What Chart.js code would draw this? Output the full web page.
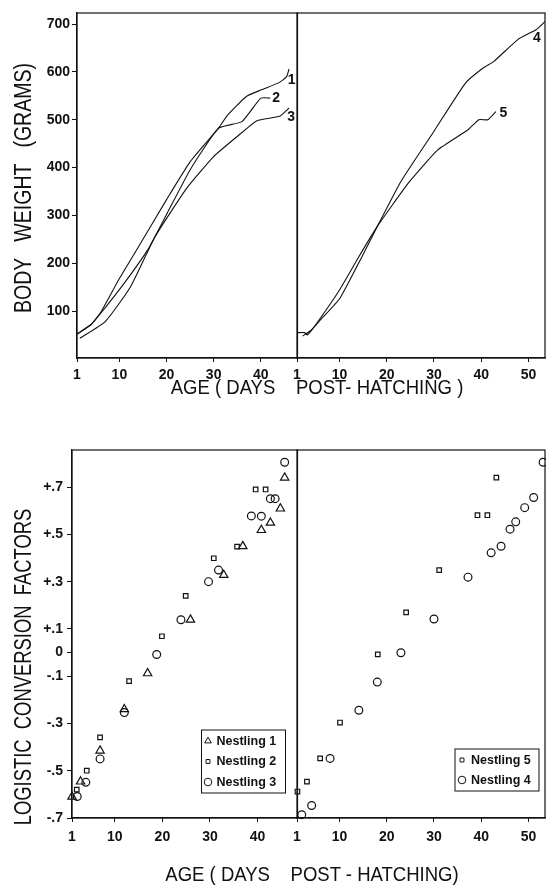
<!DOCTYPE html>
<html>
<head>
<meta charset="utf-8">
<script src="https://cdn.jsdelivr.net/npm/chart.js@4.4.0/dist/chart.umd.min.js"></script>
<style>
  body { margin: 0; background: #fff; }
  #fig { position: relative; width: 546px; height: 885px; overflow: hidden;
         font-family: 'Liberation Sans', Arial, sans-serif; color: #111; }
  .box { position: absolute; }
  .ttl { position: absolute; white-space: pre; font-size: 19.5px; line-height: 1;
         transform: translate(-50%, -50%) scaleX(0.95); }
  .ttl.rot { font-size: 23px; transform: translate(-50%, -50%) rotate(-90deg) scaleX(0.85); }
</style>
</head>
<body>
<div id="fig">
  <div class="box" style="left:0;top:0"><canvas id="weightA" width="300" height="400"></canvas></div>
  <div class="box" style="left:267px;top:0"><canvas id="weightB" width="279" height="400"></canvas></div>
  <div class="box" style="left:0;top:420px"><canvas id="factorA" width="300" height="465"></canvas></div>
  <div class="box" style="left:267px;top:420px"><canvas id="factorB" width="279" height="465"></canvas></div>

  <div class="ttl rot" style="left:23px;top:188px">BODY   WEIGHT   (GRAMS)</div>
  <div class="ttl" style="left:317px;top:388px">AGE ( DAYS    POST- HATCHING )</div>
  <div class="ttl rot" style="left:23px;top:667px;transform:translate(-50%,-50%) rotate(-90deg) scaleX(0.8)">LOGISTIC  CONVERSION  FACTORS</div>
  <div class="ttl" style="left:312px;top:875px">AGE ( DAYS    POST - HATCHING)</div>
</div>

<script>
// ---- top panels: body weight (g) against age (days)
const weightTicks = [100, 200, 300, 400, 500, 600, 700];
const ageTicksLeft = [1, 10, 20, 30, 40];
const ageTicksRight = [1, 10, 20, 30, 40, 50];

const days1 = [1, 4, 6, 10, 15, 20, 25, 31, 33, 37, 40, 44, 45.5, 46];
const grams1 = [52, 72, 97, 168, 250, 333, 412, 482, 510, 549, 562, 578, 590, 606];
const days2 = [1, 4, 6, 11, 16, 20, 25, 31, 36, 40, 42];
const grams2 = [52, 72, 95, 158, 228, 302, 395, 482, 496, 545, 545];
const days3 = [1.6, 7, 12.3, 17.6, 24.3, 30, 35, 39.2, 44, 46];
const grams3 = [43, 78, 150, 256, 357, 423, 465, 498, 507, 524];

const days4 = [2.2, 4, 6, 10.1, 14.4, 18, 23, 30, 36.7, 40.4, 42.7, 47.8, 51.6, 53.5];
const grams4 = [48, 60, 82, 127, 207, 277, 371, 476, 577, 608, 622, 668, 688, 705];
const days5 = [1, 2.6, 3.2, 5, 10, 14, 18, 24.6, 30.8, 37.2, 39.5, 41.4, 43.1];
const grams5 = [55, 55, 50, 72, 144, 212, 277, 368, 437, 479, 500, 500, 517];

// ---- bottom panels: logistic conversion factors against age (days)
const factorTicks = [-0.7, -0.5, -0.3, -0.1, 0, 0.1, 0.3, 0.5, 0.7];
const factorLabels = ['-.7', '-.5', '-.3', '-.1', '0', '+.1', '+.3', '+.5', '+.7'];

const n1Days = [1, 2.8, 6.9, 12, 16.9, 25.9, 32.9, 36.9, 40.8, 42.7, 44.8, 45.7];
const n1Vals = [-0.61, -0.546, -0.415, -0.24, -0.088, 0.139, 0.328, 0.45, 0.518, 0.549, 0.609, 0.74];
const n2Days = [2, 4.1, 6.9, 13, 19.9, 24.9, 30.8, 35.7, 39.6, 41.7];
const n2Vals = [-0.58, -0.5, -0.359, -0.121, 0.069, 0.24, 0.399, 0.448, 0.69, 0.69];
const n3Days = [2.1, 3.9, 6.9, 12, 18.8, 23.9, 29.7, 31.8, 38.7, 40.8, 42.7, 43.7, 45.7];
const n3Vals = [-0.609, -0.549, -0.45, -0.254, -0.008, 0.139, 0.3, 0.349, 0.578, 0.577, 0.651, 0.651, 0.805];

const n5Days = [1.1, 3.1, 5.9, 10.1, 18.1, 24.1, 31.1, 39.2, 41.3, 43.2];
const n5Vals = [-0.588, -0.546, -0.448, -0.296, -0.008, 0.17, 0.349, 0.581, 0.581, 0.74];
const n4Days = [2, 4.1, 8, 14.1, 18, 23, 30, 37.2, 42.1, 44.2, 46.1, 47.3, 49.2, 51.1, 53.1];
const n4Vals = [-0.686, -0.647, -0.448, -0.244, -0.125, -0.001, 0.142, 0.319, 0.422, 0.45, 0.522, 0.553, 0.613, 0.656, 0.805];

const INK = '#111';
const FAMILY = "'Liberation Sans', Arial, sans-serif";
const tickFont = { family: FAMILY, size: 14, weight: 'bold' };

const zip = (xs, ys) => xs.map((x, i) => ({ x: x, y: ys[i] }));

// box round the plot area
const frame = {
    id: 'frame',
    afterDraw(chart) {
        const { ctx, chartArea: a } = chart;
        ctx.save();
        ctx.strokeStyle = INK;
        ctx.lineWidth = 1.2;
        ctx.strokeRect(a.left, a.top, a.right - a.left, a.bottom - a.top);
        ctx.restore();
    }
};

// number written next to the end of each growth curve
const lineTags = {
    id: 'lineTags',
    afterDatasetsDraw(chart) {
        const ctx = chart.ctx;
        ctx.save();
        ctx.fillStyle = INK;
        ctx.font = 'bold 14px ' + FAMILY;
        ctx.textAlign = 'center';
        ctx.textBaseline = 'middle';
        chart.data.datasets.forEach((ds, i) => {
            const pts = chart.getDatasetMeta(i).data;
            const last = pts[pts.length - 1];
            ctx.fillText(ds.label, last.x + ds.tagDx, last.y + ds.tagDy);
        });
        ctx.restore();
    }
};

function mark(ctx, style, x, y, r) {
    ctx.beginPath();
    if (style === 'triangle') {
        ctx.moveTo(x, y - r);
        ctx.lineTo(x + r * 0.87, y + r * 0.5);
        ctx.lineTo(x - r * 0.87, y + r * 0.5);
        ctx.closePath();
    } else if (style === 'rect') {
        ctx.rect(x - r * 0.7, y - r * 0.7, r * 1.4, r * 1.4);
    } else {
        ctx.arc(x, y, r, 0, Math.PI * 2);
    }
    ctx.stroke();
}

// boxed key inside the lower right corner of the plot
const boxLegend = {
    id: 'boxLegend',
    afterDraw(chart, args, opts) {
        const { ctx, chartArea: a } = chart;
        const items = opts.order.map(i => chart.data.datasets[i]);
        const h = 22 + (items.length - 1) * opts.rowH;
        const left = a.right - opts.right - opts.width;
        const top = a.bottom - opts.bottom - h;
        ctx.save();
        ctx.fillStyle = '#fff';
        ctx.fillRect(left, top, opts.width, h);
        ctx.strokeStyle = INK;
        ctx.lineWidth = 1;
        ctx.strokeRect(left, top, opts.width, h);
        ctx.font = 'bold 12.5px ' + FAMILY;
        ctx.textBaseline = 'middle';
        ctx.fillStyle = INK;
        ctx.lineWidth = 1;
        items.forEach((ds, k) => {
            const y = top + 11 + k * opts.rowH;
            mark(ctx, ds.pointStyle, left + opts.symX, y, ds.pointStyle === 'rect' ? 2.8 : 3.8);
            ctx.fillText(ds.label, left + opts.textX, y + 0.5);
        });
        ctx.restore();
    }
};

function xAxis(max, ticks, height, pad) {
    return {
        type: 'linear', min: 1, max: max,
        afterBuildTicks: s => { s.ticks = ticks.map(v => ({ value: v })); },
        afterFit: s => { s.height = height; },
        grid: { drawOnChartArea: false, drawTicks: true, tickLength: 4, color: INK },
        border: { display: true, color: INK, width: 1.2 },
        ticks: { color: INK, font: tickFont, padding: pad, maxRotation: 0, autoSkip: false }
    };
}

function yAxis(min, max, ticks, labels, width, pad, show) {
    return {
        type: 'linear', min: min, max: max, display: show,
        afterBuildTicks: s => { s.ticks = ticks.map(v => ({ value: v })); },
        afterFit: s => { s.width = width; },
        grid: { drawOnChartArea: false, drawTicks: true, tickLength: 5, color: INK },
        border: { display: true, color: INK, width: 1.2 },
        ticks: {
            color: INK, font: tickFont, padding: pad, autoSkip: false,
            callback: (v, i) => labels ? labels[i] : String(v)
        }
    };
}

function curve(label, xs, ys, dx, dy) {
    return {
        label: label, data: zip(xs, ys), tagDx: dx, tagDy: dy,
        borderColor: INK, borderWidth: 1.1, pointRadius: 0, tension: 0.15, fill: false
    };
}

function dots(label, xs, ys, style, r) {
    return {
        label: label, data: zip(xs, ys), pointStyle: style, pointRadius: r,
        pointBorderColor: INK, pointBackgroundColor: 'rgba(0,0,0,0)', pointBorderWidth: 1.2,
        showLine: false, clip: false
    };
}

function panel(id, type, datasets, scales, padding, plugins, legendOpts) {
    return new Chart(document.getElementById(id), {
        type: type,
        data: { datasets: datasets },
        options: {
            responsive: false,
            animation: false,
            events: [],
            layout: { padding: padding, autoPadding: false },
            scales: scales,
            plugins: {
                legend: { display: false },
                tooltip: { enabled: false },
                boxLegend: legendOpts || {}
            }
        },
        plugins: [frame, ...plugins]
    });
}

window.onload = () => {
    panel('weightA', 'line', [
        curve('1', days1, grams1, 2.5, 11.5),
        curve('2', days2, grams2, 6, 0),
        curve('3', days3, grams3, 2, 9)
    ], {
        x: xAxis(47.8, ageTicksLeft, 42, 5),
        y: yAxis(2, 723, weightTicks, null, 77, 2, true)
    }, { top: 13, right: 2.5, left: 0, bottom: 0 }, [lineTags]);

    panel('weightB', 'line', [
        curve('4', days4, grams4, -8, 17),
        curve('5', days5, grams5, 7.5, 1.5)
    ], {
        x: xAxis(53.5, ageTicksRight, 42, 5),
        y: yAxis(2, 723, weightTicks, null, 0, 2, false)
    }, { top: 13, right: 1, left: 30, bottom: 0 }, [lineTags]);

    panel('factorA', 'scatter', [
        dots('Nestling 1', n1Days, n1Vals, 'triangle', 4.8),
        dots('Nestling 2', n2Days, n2Vals, 'rect', 3.2),
        dots('Nestling 3', n3Days, n3Vals, 'circle', 3.9)
    ], {
        x: xAxis(48.4, ageTicksLeft, 67, 7),
        y: yAxis(-0.7, 0.857, factorTicks, factorLabels, 72, 4, true)
    }, { top: 30, right: 2.5, left: 0, bottom: 0 }, [boxLegend],
    { order: [0, 1, 2], right: 12, bottom: 25, width: 84, rowH: 20.5, symX: 6.5, textX: 15 });

    panel('factorB', 'scatter', [
        dots('Nestling 5', n5Days, n5Vals, 'rect', 3.2),
        dots('Nestling 4', n4Days, n4Vals, 'circle', 3.9)
    ], {
        x: xAxis(53.5, ageTicksRight, 67, 7),
        y: yAxis(-0.7, 0.857, factorTicks, factorLabels, 0, 4, false)
    }, { top: 30, right: 1, left: 30, bottom: 0 }, [boxLegend],
    { order: [0, 1], right: 6, bottom: 27, width: 84, rowH: 20, symX: 7, textX: 16 });
};
</script>
</body>
</html>
